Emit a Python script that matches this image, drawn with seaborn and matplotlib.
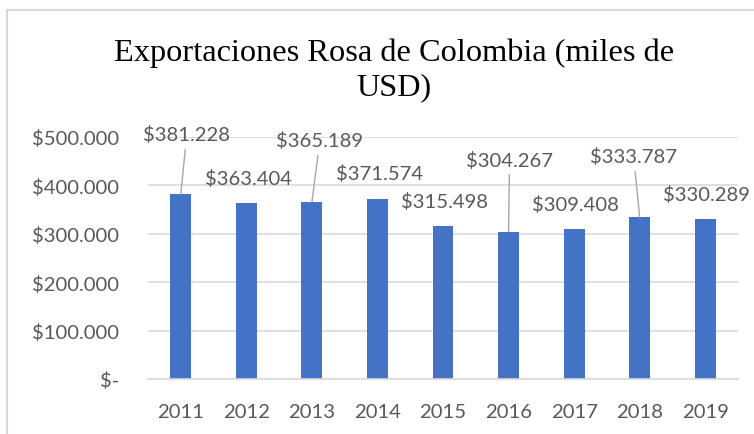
import matplotlib
matplotlib.use("Agg")
import pandas as pd
import matplotlib.pyplot as plt
import seaborn as sns
from matplotlib.ticker import FuncFormatter
from matplotlib.patches import Rectangle

years = ["2011", "2012", "2013", "2014", "2015", "2016", "2017", "2018", "2019"]
exports = [381228, 363404, 365189, 371574, 315498, 304267, 309408, 333787, 330289]
y_ticks = [0, 100000, 200000, 300000, 400000, 500000]

# where each value label sits, in pixels from the top of its bar
label_dx = [6, 2, 8, 2, 2, 1, 1, -6, 1]
label_dy = [60, 25, 62, 26, 25, 72, 25, 61, 25]
leader = [True, False, True, False, False, True, False, True, False]

sns.set_style("white")
plt.rcParams["font.family"] = ["Lato", "DejaVu Sans"]

grey_txt = "#595959"
grid_col = "#d9d9d9"


def money(v, pos=None):
    if v == 0:
        return "$-"
    return "$" + f"{v:,.0f}".replace(",", ".")


df = pd.DataFrame({"year": years, "exports": exports})

fig = plt.figure(figsize=(7.54, 4.35), dpi=100)
ax = fig.add_axes([148 / 754, 55 / 435, 590 / 754, 242 / 435])

sns.barplot(data=df, x="year", y="exports", color="#4472C4", saturation=1,
            width=0.32, linewidth=0, ax=ax)

ax.set_ylim(0, 500000)
ax.set_xlim(-0.5, len(years) - 0.5)
ax.set_yticks(y_ticks)
ax.yaxis.set_major_formatter(FuncFormatter(money))
ax.yaxis.grid(True, color=grid_col, lw=1.2)
ax.set_axisbelow(True)
ax.set_xlabel("")
ax.set_ylabel("")
for s in ["top", "left", "right"]:
    ax.spines[s].set_visible(False)
ax.spines["bottom"].set_color(grid_col)
ax.spines["bottom"].set_linewidth(1.2)
ax.tick_params(axis="y", length=0, pad=21, labelsize=14.6, labelcolor=grey_txt)
ax.tick_params(axis="x", length=0, pad=17, labelsize=14.6, labelcolor=grey_txt)

for i, v in enumerate(exports):
    arrow = None
    if leader[i]:
        arrow = dict(arrowstyle="-", color="#a6a6a6", lw=1, shrinkA=2, shrinkB=0)
    ax.annotate(money(v), xy=(i, v), xytext=(label_dx[i], label_dy[i]),
                textcoords="offset pixels", ha="center", va="center",
                fontsize=14.6, color=grey_txt, arrowprops=arrow,
                annotation_clip=False)

fig.text(394 / 754, 1 - 39 / 435, "Exportaciones Rosa de Colombia (miles de\nUSD)",
         ha="center", va="top", fontsize=23.3, linespacing=1.2,
         family="Liberation Serif", color="black")

fig.patches.append(Rectangle((6.5 / 754, -0.1), 1.2, 1.1 - 11 / 435,
                             transform=fig.transFigure, fill=False,
                             edgecolor=grid_col, lw=1.5))

fig.savefig("out.png", dpi=100)
